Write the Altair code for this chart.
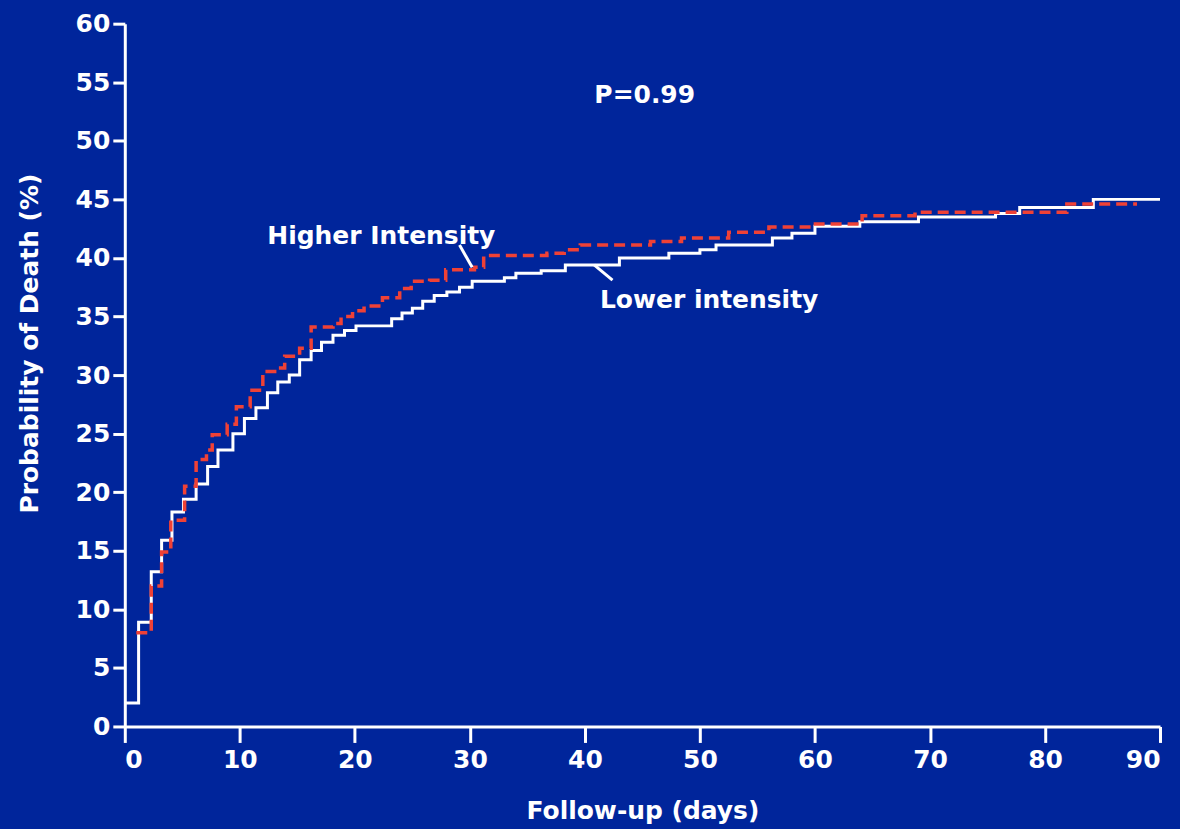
import altair as alt
import pandas as pd

# Lower intensity (white solid step curve)
low_days = [0, 1.2, 2.3, 3.2, 4.1, 5.1, 6.2, 7.2, 8.1, 9.4, 10.4, 11.4, 12.4, 13.3, 14.3,
            15.2, 16.2, 17.1, 18.1, 19.1, 20.1, 23.2, 24.1, 25.0, 25.9, 26.9, 28.0, 29.1,
            30.2, 33.0, 34.0, 36.2, 38.3, 43.0, 47.3, 50.0, 51.4, 56.3, 58.0, 60.0, 63.9,
            69.0, 75.7, 77.8, 84.2, 90.0]
low_vals = [2.0, 8.9, 13.2, 15.9, 18.3, 19.4, 20.7, 22.2, 23.6, 25.0, 26.3, 27.2, 28.5, 29.4,
            30.0, 31.3, 32.1, 32.8, 33.4, 33.8, 34.2, 34.8, 35.3, 35.7, 36.3, 36.8, 37.1,
            37.5, 38.0, 38.3, 38.7, 38.9, 39.4, 40.0, 40.4, 40.7, 41.1, 41.7, 42.1, 42.7,
            43.1, 43.5, 43.8, 44.3, 45.0, 45.0]

# Higher intensity (red dashed step curve)
high_days = [1.0, 2.3, 3.2, 4.0, 5.2, 6.2, 7.1, 7.6, 8.9, 9.7, 10.9, 12.0, 13.3, 13.9, 15.2,
             16.2, 18.1, 18.8, 19.8, 20.8, 22.4, 23.9, 24.9, 26.5, 27.9, 30.4, 31.2, 36.7,
             38.2, 39.6, 45.7, 48.4, 52.5, 56.0, 59.7, 64.1, 68.7, 81.9, 88.0]
high_vals = [8.0, 12.0, 14.9, 17.6, 20.5, 22.8, 23.6, 24.9, 25.8, 27.3, 28.7, 30.3, 30.6, 31.6,
             32.3, 34.1, 34.4, 35.0, 35.5, 35.9, 36.6, 37.4, 38.0, 38.1, 39.0, 39.2, 40.2,
             40.4, 40.7, 41.1, 41.4, 41.7, 42.2, 42.65, 42.9, 43.6, 43.9, 44.6, 44.6]

# Annotations
label_texts = ["Higher Intensity", "Lower intensity", "P=0.99"]
label_x = [22.3, 50.8, 45.2]
label_y = [41.9, 36.4, 53.9]

# Leader lines
lead_x = [29.1, 40.8]
lead_y = [41.1, 39.4]
lead_x2 = [30.2, 42.4]
lead_y2 = [39.2, 38.1]

x_ticks = list(range(0, 91, 10))
y_ticks = list(range(0, 61, 5))

BG = "#00259B"
RED = "#EF4136"
FONT = "DejaVu Sans"
FS = 25

low_df = pd.DataFrame({"day": low_days, "p": low_vals})
high_df = pd.DataFrame({"day": high_days, "p": high_vals})
lab_df = pd.DataFrame({"t": label_texts, "x": label_x, "y": label_y})
lead_df = pd.DataFrame({"x": lead_x, "y": lead_y, "x2": lead_x2, "y2": lead_y2})

xscale = alt.Scale(domain=[0, 90], nice=False, zero=False)
yscale = alt.Scale(domain=[0, 60], nice=False, zero=False)

xaxis = alt.Axis(values=x_ticks, title="Follow-up (days)", grid=False,
                 tickSize=16, tickWidth=3, domainWidth=3, domainColor="white", tickColor="white",
                 labelColor="white", labelFont=FONT, labelFontSize=FS, labelFontWeight="bold",
                 labelPadding=5, titleColor="white", titleFont=FONT, titleFontSize=FS,
                 titleFontWeight="bold", titleY=84, titleBaseline="middle")
yaxis = alt.Axis(values=y_ticks, title="Probability of Death (%)", grid=False,
                 tickSize=12, tickWidth=3, domainWidth=3, domainColor="white", tickColor="white",
                 labelColor="white", labelFont=FONT, labelFontSize=FS, labelFontWeight="bold",
                 labelPadding=3, titleColor="white", titleFont=FONT, titleFontSize=FS,
                 titleFontWeight="bold", titleX=-95, titleY=320, titleAngle=270,
                 titleBaseline="middle", titleAlign="center")

low = alt.Chart(low_df).mark_line(interpolate="step-after", color="white", strokeWidth=3).encode(
    x=alt.X("day:Q", scale=xscale, axis=xaxis),
    y=alt.Y("p:Q", scale=yscale, axis=yaxis),
)
high = alt.Chart(high_df).mark_line(interpolate="step-after", color=RED, strokeWidth=3.5,
                                    strokeDash=[11, 6]).encode(
    x=alt.X("day:Q", scale=xscale),
    y=alt.Y("p:Q", scale=yscale),
)
leads = alt.Chart(lead_df).mark_rule(color="white", strokeWidth=3).encode(
    x=alt.X("x:Q", scale=xscale), y=alt.Y("y:Q", scale=yscale),
    x2="x2:Q", y2="y2:Q",
)
texts = alt.Chart(lab_df).mark_text(color="white", font=FONT, fontSize=FS, fontWeight="bold",
                                    align="center", baseline="middle").encode(
    x=alt.X("x:Q", scale=xscale), y=alt.Y("y:Q", scale=yscale), text="t:N",
)

chart = alt.layer(low, high, leads, texts).properties(
    width=1037, height=704,
    autosize=alt.AutoSizeParams(type="none"),
    padding={"left": 117, "top": 15, "right": 12, "bottom": 98},
    background=BG,
).configure_view(stroke=None)

chart.save("out.html", embed_options={"renderer": "svg", "actions": False})

# page background matches the chart background
with open("out.html", encoding="utf-8") as f:
    html = f.read()
html = html.replace("<head>", "<head><style>html,body{background:%s;overflow:hidden;}</style>" % BG, 1)
with open("out.html", "w", encoding="utf-8") as f:
    f.write(html)
